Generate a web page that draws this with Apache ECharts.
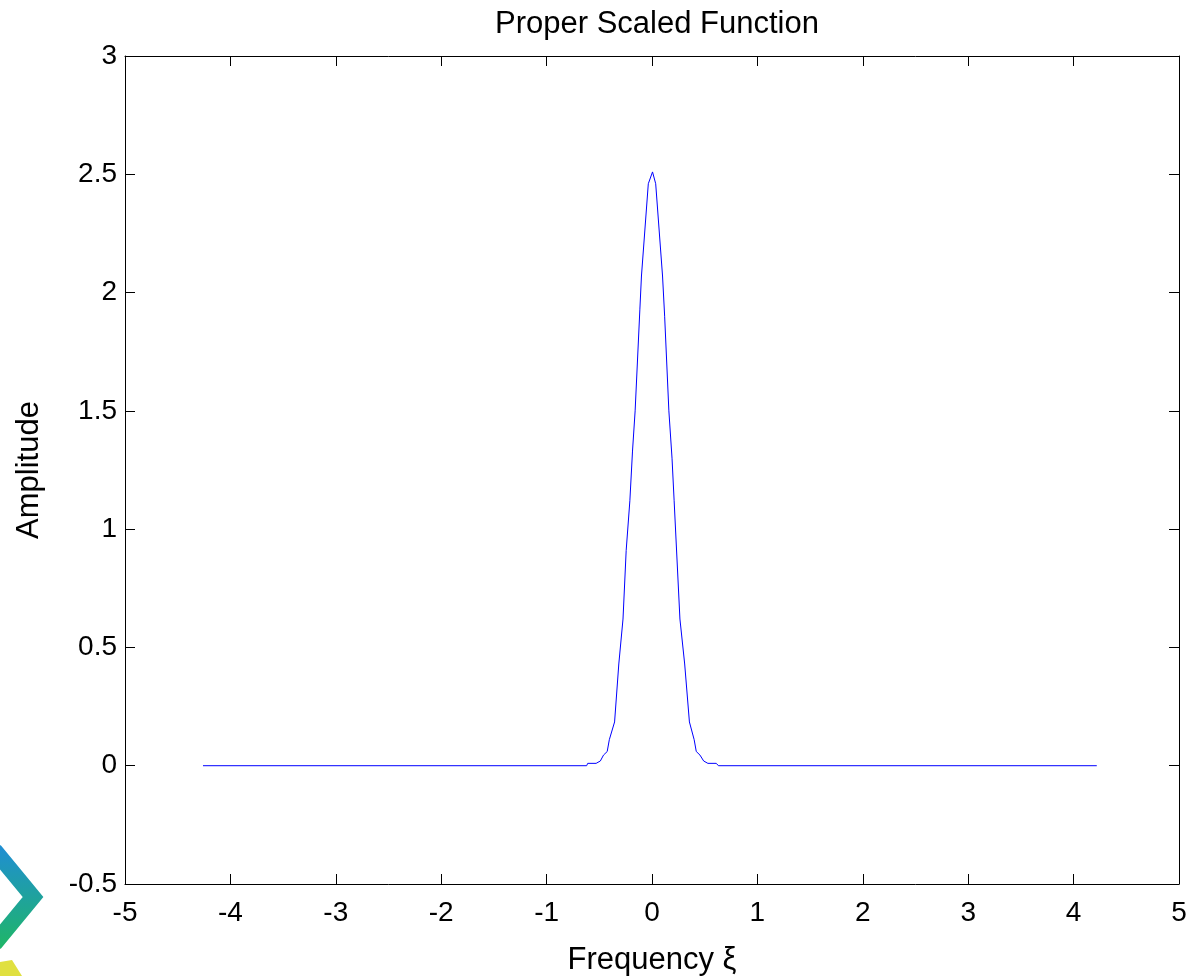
<!DOCTYPE html>
<html>
<head>
<meta charset="utf-8">
<script src="https://cdn.jsdelivr.net/npm/echarts@6/dist/echarts.min.js"></script>
<style>
  html, body { margin: 0; padding: 0; background: #fff; }
  #chart { width: 1190px; height: 976px; }
</style>
</head>
<body>
<div id="chart"></div>
<script>
// frequency samples (xi) and amplitude
const freq = [
    -4.26, -0.62, -0.61, -0.53, -0.49, -0.46, -0.425, -0.405, -0.355, -0.315,
    -0.275, -0.245, -0.21, -0.185, -0.16, -0.115, -0.10, -0.035, 0.005,
    0.035, 0.10, 0.12, 0.16, 0.19, 0.21, 0.265, 0.31, 0.355, 0.40,
    0.42, 0.455, 0.49, 0.53, 0.61, 0.63, 4.22
];
const amplitude = [
    0, 0, 0.01, 0.01, 0.02, 0.045, 0.06, 0.11, 0.185, 0.43,
    0.62, 0.91, 1.12, 1.33, 1.50, 1.93, 2.07, 2.46, 2.51,
    2.46, 2.07, 1.90, 1.50, 1.30, 1.12, 0.62, 0.43, 0.185, 0.11,
    0.06, 0.045, 0.02, 0.01, 0.01, 0, 0
];

const chart = echarts.init(document.getElementById('chart'));

const font = 'Liberation Sans, Arial, sans-serif';

const tickStyle = { show: true, inside: true, length: 10, lineStyle: { color: '#000', width: 1 } };
const lineStyle = { show: true, onZero: false, lineStyle: { color: '#000', width: 1 } };

chart.setOption({
    animation: false,
    backgroundColor: '#fff',
    title: {
        text: 'Proper Scaled Function',
        left: 652,
        textAlign: 'center',
        top: 4,
        textStyle: { fontFamily: font, fontSize: 31, fontWeight: 'normal', color: '#000' }
    },
    grid: { left: 125, right: 11, top: 56, bottom: 92, outerBoundsMode: 'none' },
    xAxis: [{
        type: 'value',
        min: -5, max: 5, interval: 1,
        name: 'Frequency ξ',
        nameLocation: 'middle',
        nameGap: 61,
        nameTextStyle: { fontFamily: font, fontSize: 31, color: '#000' },
        axisLine: lineStyle,
        axisTick: tickStyle,
        axisLabel: { fontFamily: font, fontSize: 28, color: '#000', margin: 15 },
        splitLine: { show: false }
    }, {
        type: 'value', position: 'top',
        min: -5, max: 5, interval: 1,
        axisLine: lineStyle,
        axisTick: tickStyle,
        axisLabel: { show: false },
        splitLine: { show: false }
    }],
    yAxis: [{
        type: 'value',
        min: -0.5, max: 3, interval: 0.5,
        name: 'Amplitude',
        nameLocation: 'middle',
        nameGap: 80,
        nameTextStyle: { fontFamily: font, fontSize: 31, color: '#000' },
        axisLine: lineStyle,
        axisTick: tickStyle,
        axisLabel: { fontFamily: font, fontSize: 28, color: '#000', margin: 8 },
        splitLine: { show: false }
    }, {
        type: 'value', position: 'right',
        min: -0.5, max: 3, interval: 0.5,
        axisLine: lineStyle,
        axisTick: tickStyle,
        axisLabel: { show: false },
        splitLine: { show: false }
    }],
    series: [{
        type: 'line',
        data: freq.map((x, i) => [x, amplitude[i]]),
        showSymbol: false,
        lineStyle: { color: '#0000ff', width: 1 },
        z: 3
    }],
    graphic: [{
        type: 'polygon',
        shape: { points: [[-40, 897], [0, 857], [33, 897], [0, 937]] },
        style: {
            fill: 'none',
            lineWidth: 16,
            stroke: new echarts.graphic.LinearGradient(0, 0, 0, 1, [
                { offset: 0, color: '#1f8fd0' },
                { offset: 1, color: '#1fb56a' }
            ])
        }
    }, {
        type: 'polygon',
        shape: { points: [[0, 962], [12, 960], [22, 976], [0, 976]] },
        style: { fill: '#e0e040' }
    }]
});
</script>
</body>
</html>
